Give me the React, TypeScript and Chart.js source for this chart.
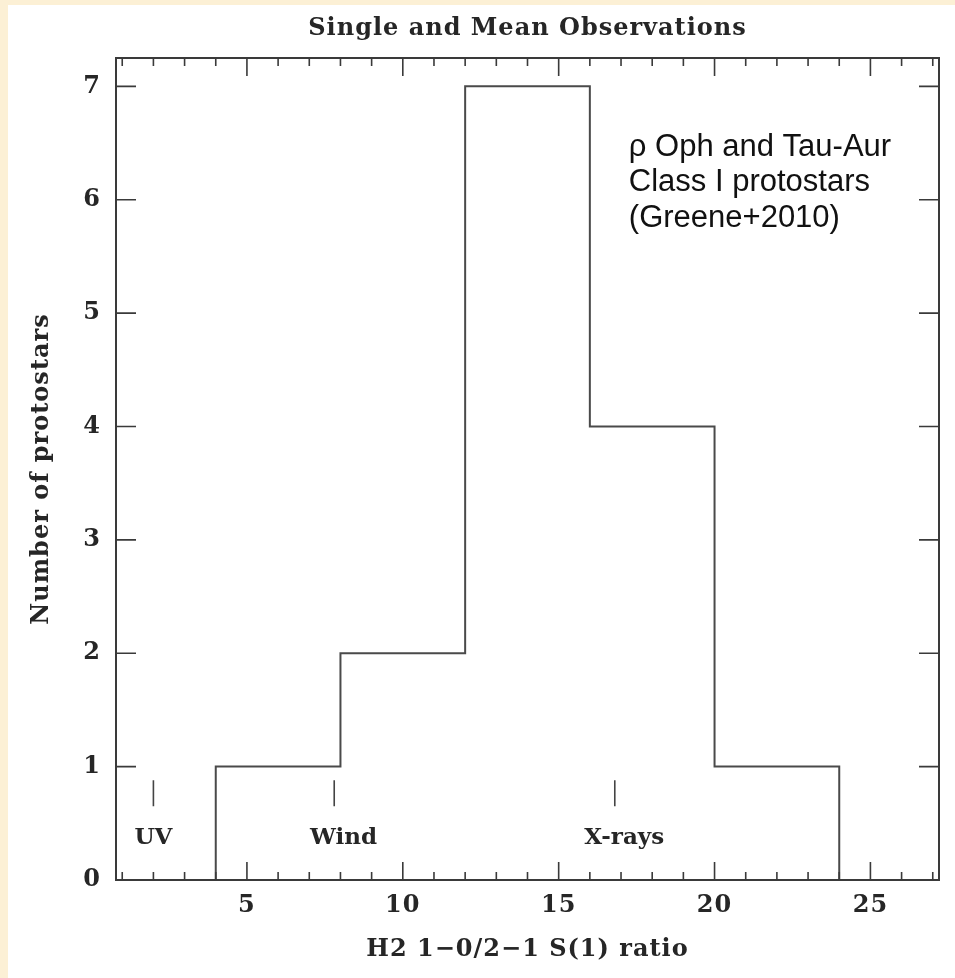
import React, { useEffect, useRef } from "react";
import { Chart, registerables } from "chart.js";

Chart.register(...registerables);

// ---- data ----
const binEdges = [4, 8, 12, 16, 20, 24];
const binCounts = [1, 2, 7, 4, 1];
const xTickValues = [5, 10, 15, 20, 25];
const yTickValues = [0, 1, 2, 3, 4, 5, 6, 7];
const markerLabels = ["UV", "Wind", "X-rays"];
const markerX = [2.0, 7.8, 16.8];
const markerLabelX = [2.0, 8.1, 17.1];
const annotationLines = ["\u03C1 Oph and Tau-Aur", "Class I protostars", "(Greene+2010)"];
const titleText = "Single and Mean Observations";
const xTitle = "H2 1\u22120/2\u22121 S(1) ratio";
const yTitle = "Number of protostars";

const SERIF = "'DejaVu Serif', serif";
const INK = "#262626";
const SPACING = "1px";

const frameAndExtras = {
  id: "frameAndExtras",
  beforeUpdate(chart: any) {
    chart.ctx.letterSpacing = SPACING;
  },
  beforeDraw(chart: any) {
    const { ctx, width, height } = chart;
    ctx.letterSpacing = SPACING;
    ctx.save();
    ctx.fillStyle = "#fcf0d5";
    ctx.fillRect(0, 0, width, height);
    ctx.fillStyle = "#ffffff";
    ctx.fillRect(8, 5, width - 8, height - 5);
    ctx.restore();
  },
  afterDraw(chart: any) {
    const { ctx, chartArea: a, scales } = chart;
    const xs = scales.x;
    const ys = scales.y;
    ctx.save();
    ctx.strokeStyle = "#3a3a3a";
    ctx.lineWidth = 2;
    ctx.strokeRect(a.left, a.top, a.right - a.left, a.bottom - a.top);
    ctx.lineWidth = 1.6;
    ctx.beginPath();
    // x ticks (top & bottom), minor every 1, major every 5
    for (let v = Math.ceil(xs.min); v <= xs.max; v++) {
      const px = xs.getPixelForValue(v);
      const len = v % 5 === 0 ? 18 : 8;
      ctx.moveTo(px, a.bottom);
      ctx.lineTo(px, a.bottom - len);
      ctx.moveTo(px, a.top);
      ctx.lineTo(px, a.top + len);
    }
    // y ticks (left & right)
    for (const v of yTickValues) {
      if (v === 0) continue;
      const py = ys.getPixelForValue(v);
      ctx.moveTo(a.left, py);
      ctx.lineTo(a.left + 20, py);
      ctx.moveTo(a.right, py);
      ctx.lineTo(a.right - 20, py);
    }
    ctx.stroke();

    // markers
    ctx.strokeStyle = "#444";
    ctx.lineWidth = 1.6;
    ctx.beginPath();
    markerX.forEach((mx) => {
      const px = xs.getPixelForValue(mx);
      ctx.moveTo(px, ys.getPixelForValue(0.88));
      ctx.lineTo(px, ys.getPixelForValue(0.65));
    });
    ctx.stroke();
    ctx.letterSpacing = "0px";
    ctx.fillStyle = INK;
    ctx.font = `bold 23px ${SERIF}`;
    ctx.textAlign = "center";
    ctx.textBaseline = "middle";
    markerLabels.forEach((lab, i) => {
      ctx.fillText(lab, xs.getPixelForValue(markerLabelX[i]), ys.getPixelForValue(0.37));
    });

    // annotation
    ctx.font = "31px 'Liberation Sans', Arial, sans-serif";
    ctx.fillStyle = "#111";
    ctx.textAlign = "left";
    ctx.textBaseline = "alphabetic";
    const ax = xs.getPixelForValue(17.25);
    annotationLines.forEach((line, i) => {
      ctx.fillText(line, ax, ys.getPixelForValue(6.39) + i * 35.5);
    });
    ctx.restore();
  },
};

export default function App() {
  const ref = useRef<HTMLCanvasElement | null>(null);
  useEffect(() => {
    const canvas = ref.current!;
    const points: { x: number; y: number }[] = [{ x: binEdges[0], y: 0 }];
    binCounts.forEach((c, i) => points.push({ x: binEdges[i + 1], y: c }));
    points.push({ x: binEdges[binEdges.length - 1], y: 0 });

    const chart = new Chart(canvas, {
      type: "line",
      data: {
        datasets: [
          {
            data: points,
            stepped: "after",
            borderColor: "#4a4a4a",
            borderWidth: 2,
            pointRadius: 0,
            fill: false,
          },
        ],
      },
      options: {
        responsive: false,
        animation: false,
        devicePixelRatio: 1,
        layout: { padding: { left: 0, right: 16, top: 0, bottom: 0 } },
        plugins: {
          legend: { display: false },
          tooltip: { enabled: false },
          title: {
            display: true,
            fullSize: false,
            text: titleText,
            color: INK,
            font: { family: SERIF, size: 24, weight: "bold" },
            padding: { top: 14, bottom: 15.2 },
          },
        },
        scales: {
          x: {
            type: "linear",
            min: 0.8,
            max: 27.2,
            afterBuildTicks: (s: any) => {
              s.ticks = xTickValues.map((v) => ({ value: v }));
            },
            afterFit: (s: any) => {
              s.height = 98;
            },
            grid: { display: false, drawTicks: false },
            border: { display: false },
            ticks: {
              autoSkip: false,
              maxRotation: 0,
              padding: 11,
              color: INK,
              font: { family: SERIF, size: 24, weight: "bold" },
            },
            title: {
              display: true,
              text: xTitle,
              color: INK,
              font: { family: SERIF, size: 24, weight: "bold" },
              padding: { top: 0, bottom: 14 },
            },
          },
          y: {
            type: "linear",
            min: 0,
            max: 7.25,
            afterBuildTicks: (s: any) => {
              s.ticks = yTickValues.map((v) => ({ value: v }));
            },
            afterFit: (s: any) => {
              s.width = 116;
            },
            grid: { display: false, drawTicks: false },
            border: { display: false },
            ticks: {
              autoSkip: false,
              padding: 15,
              color: INK,
              font: { family: SERIF, size: 24, weight: "bold" },
            },
            title: {
              display: true,
              text: yTitle,
              color: INK,
              font: { family: SERIF, size: 24, weight: "bold" },
              padding: { top: 27, bottom: 0 },
            },
          },
        },
      },
      plugins: [frameAndExtras],
    } as any);
    return () => chart.destroy();
  }, []);

  return (
    <div style={{ position: "absolute", left: 0, top: 0, width: 955, height: 978 }}>
      <canvas ref={ref} width={955} height={978} style={{ display: "block" }} />
    </div>
  );
}
